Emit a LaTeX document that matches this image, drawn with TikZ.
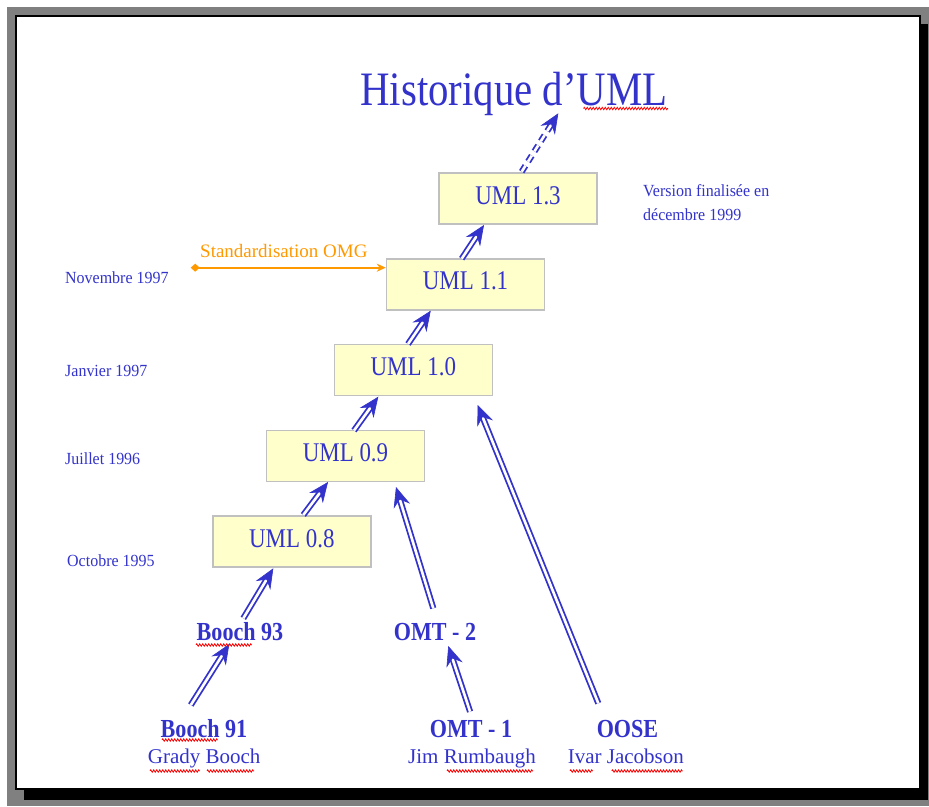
\documentclass[tikz,border=0pt]{standalone}
\usepackage{fontspec}
\setmainfont{Liberation Serif}
\usepackage{graphicx}
\usetikzlibrary{arrows.meta,calc,decorations.pathmorphing}
\definecolor{umlblue}{RGB}{51,51,204}
\definecolor{omgorange}{RGB}{255,153,0}
\definecolor{boxfill}{RGB}{255,255,204}
\definecolor{boxline}{RGB}{192,192,192}
\definecolor{framegray}{RGB}{128,128,128}
\newcommand\cx[1]{\scalebox{0.85}[1]{#1}}
\newcommand\sx[1]{\scalebox{0.94}[1]{#1}}
% double-lined arrow: shaft drawn double, solid tip drawn on top
\newcommand\varrow[3][]{%
  \draw[dblshaft,#1] (#2) -- (#3);
  \draw[arrowtip] ($(#3)!1pt!(#2)$) -- (#3);
}
\begin{document}
\begin{tikzpicture}[x=1pt,y=-1pt,
  verbox/.style={draw=boxline, line width=1.5pt, fill=boxfill, minimum width=158pt, minimum height=51pt, inner sep=0pt, text=umlblue, font=\fontsize{27}{30}\selectfont, text depth=7pt},
  titlestyle/.style={inner sep=0pt, text=umlblue, font=\fontsize{48}{52}\selectfont},
  datestyle/.style={inner sep=0pt, text=umlblue, font=\fontsize{17}{20}\selectfont},
  omgstyle/.style={inner sep=0pt, text=omgorange, font=\fontsize{19}{22}\selectfont},
  labstyle/.style={inner sep=0pt, text=umlblue, font=\fontsize{26}{28}\selectfont\bfseries},
  namestyle/.style={inner sep=0pt, text=umlblue, font=\fontsize{21}{24}\selectfont},
  dblshaft/.style={umlblue, line width=1.8pt, double=white, double distance=2.6pt, shorten >=13pt},
  dashedshaft/.style={dash pattern=on 7pt off 5pt},
  arrowtip/.style={umlblue, line width=0.6pt, -{Stealth[length=20pt,width=17pt,inset=7pt]}},
  squig/.style={red, line width=0.8pt, decorate, decoration={zigzag, segment length=3pt, amplitude=1.2pt}}
]
\useasboundingbox (0,0) rectangle (929,806);
% frame
\fill[white] (0,0) rectangle (929,806);
\fill[framegray] (7,7) rectangle (929,806);
\fill[black] (24,24) rectangle (928,800);
\filldraw[fill=white, draw=black, line width=1.5pt] (16,16) rectangle (920,789);

% title
\node[titlestyle, anchor=base] (title) at (514,105) {\cx{Historique d’UML}};

% version boxes
\node[verbox] (u13) at (518,198.7) {\cx{UML 1.3}};
\node[verbox] (u11) at (465.5,284.5) {\cx{UML 1.1}};
\node[verbox] (u10) at (413.3,369.8) {\cx{UML 1.0}};
\node[verbox] (u09) at (345.5,456) {\cx{UML 0.9}};
\node[verbox] (u08) at (291.8,541.7) {\cx{UML 0.8}};

% dates
\node[datestyle, anchor=base west] (nov) at (65,283) {\sx{Novembre 1997}};
\node[datestyle, anchor=base west] (jan) at (65,376.5) {\sx{Janvier 1997}};
\node[datestyle, anchor=base west] (jul) at (65,464) {\sx{Juillet 1996}};
\node[datestyle, anchor=base west] (oct) at (67,566.5) {\sx{Octobre 1995}};
\node[datestyle, anchor=base west] (ver1) at (643,196.5) {\sx{Version finalisée en}};
\node[datestyle, anchor=base west] (ver2) at (643,220) {\sx{décembre 1999}};

% OMG standardisation
\node[omgstyle, anchor=base west] (std) at (200,257.3) {Standardisation OMG};
\coordinate (stdL) at (190.7,267.7);
\draw[omgorange, line width=1.8pt, {Diamond[length=9pt,width=8pt]}-{Stealth[length=9pt,width=8pt]}] (stdL) -- ($(u11.west)+(0,-16.8)$);

% methods
\node[labstyle, anchor=base] (b93) at (240,640.7) {\cx{Booch 93}};
\node[labstyle, anchor=base] (omt2) at (435,640.7) {\cx{OMT - 2}};
\node[labstyle, anchor=base] (b91) at (204,737) {\cx{Booch 91}};
\node[labstyle, anchor=base] (omt1) at (471,737) {\cx{OMT - 1}};
\node[labstyle, anchor=base] (oose) at (627.5,737) {\cx{OOSE}};
\node[namestyle, anchor=base] (grady) at (204.2,763) {Grady Booch};
\node[namestyle, anchor=base] (jim) at (472.1,763) {Jim Rumbaugh};
\node[namestyle, anchor=base] (ivar) at (625.8,763) {Ivar Jacobson};

% arrow end points, taken on the nodes
\coordinate (a1s) at ($(b91.base)+(-13.2,-32)$);   \coordinate (a1e) at ($(b93.base)+(-10.7,3.3)$);
\coordinate (a2s) at ($(b93.base)+(3.3,-22.4)$);   \coordinate (a2e) at ($(u08.center)+(-18.5,26.6)$);
\coordinate (a3s) at ($(u08.center)+(11.5,-26.7)$); \coordinate (a3e) at ($(u09.center)+(-17.5,26)$);
\coordinate (a4s) at ($(u09.center)+(8.5,-25.5)$);  \coordinate (a4e) at ($(u10.center)+(-35,26.9)$);
\coordinate (a5s) at ($(u10.center)+(-5.3,-25.8)$); \coordinate (a5e) at ($(u11.center)+(-34.8,26.2)$);
\coordinate (a6s) at ($(u11.center)+(-3.8,-25.8)$); \coordinate (a6e) at ($(u13.center)+(-34,26.3)$);
\coordinate (a7s) at ($(u13.center)+(3.7,-27)$);    \coordinate (a7e) at ($(title.base)+(44.3,8.3)$);
\coordinate (a8s) at ($(omt1.base)+(-0.9,-25.3)$);  \coordinate (a8e) at ($(omt2.base)+(13.3,5.3)$);
\coordinate (a9s) at ($(omt2.base)+(-1.7,-32.4)$);  \coordinate (a9e) at ($(u09.center)+(50.5,31)$);
\coordinate (a10s) at ($(oose.base)+(-29.2,-33.7)$); \coordinate (a10e) at ($(u10.center)+(64.4,35.2)$);

\varrow{a1s}{a1e}
\varrow{a2s}{a2e}
\varrow{a3s}{a3e}
\varrow{a4s}{a4e}
\varrow{a5s}{a5e}
\varrow{a6s}{a6e}
\varrow[dashedshaft]{a7s}{a7e}
\varrow{a8s}{a8e}
\varrow{a9s}{a9e}
\varrow{a10s}{a10e}

% spell-check underlines
\draw[squig] (583.5,108.5) -- (668,108.5);
\draw[squig] (196,645) -- (251.7,645);
\draw[squig] (162,740) -- (217.6,740);
\draw[squig] (150,771) -- (199.6,771);
\draw[squig] (207,771) -- (254,771);
\draw[squig] (447,771) -- (533,771);
\draw[squig] (570,771) -- (592.6,771);
\draw[squig] (611.8,771) -- (682.6,771);
\end{tikzpicture}
\end{document}
